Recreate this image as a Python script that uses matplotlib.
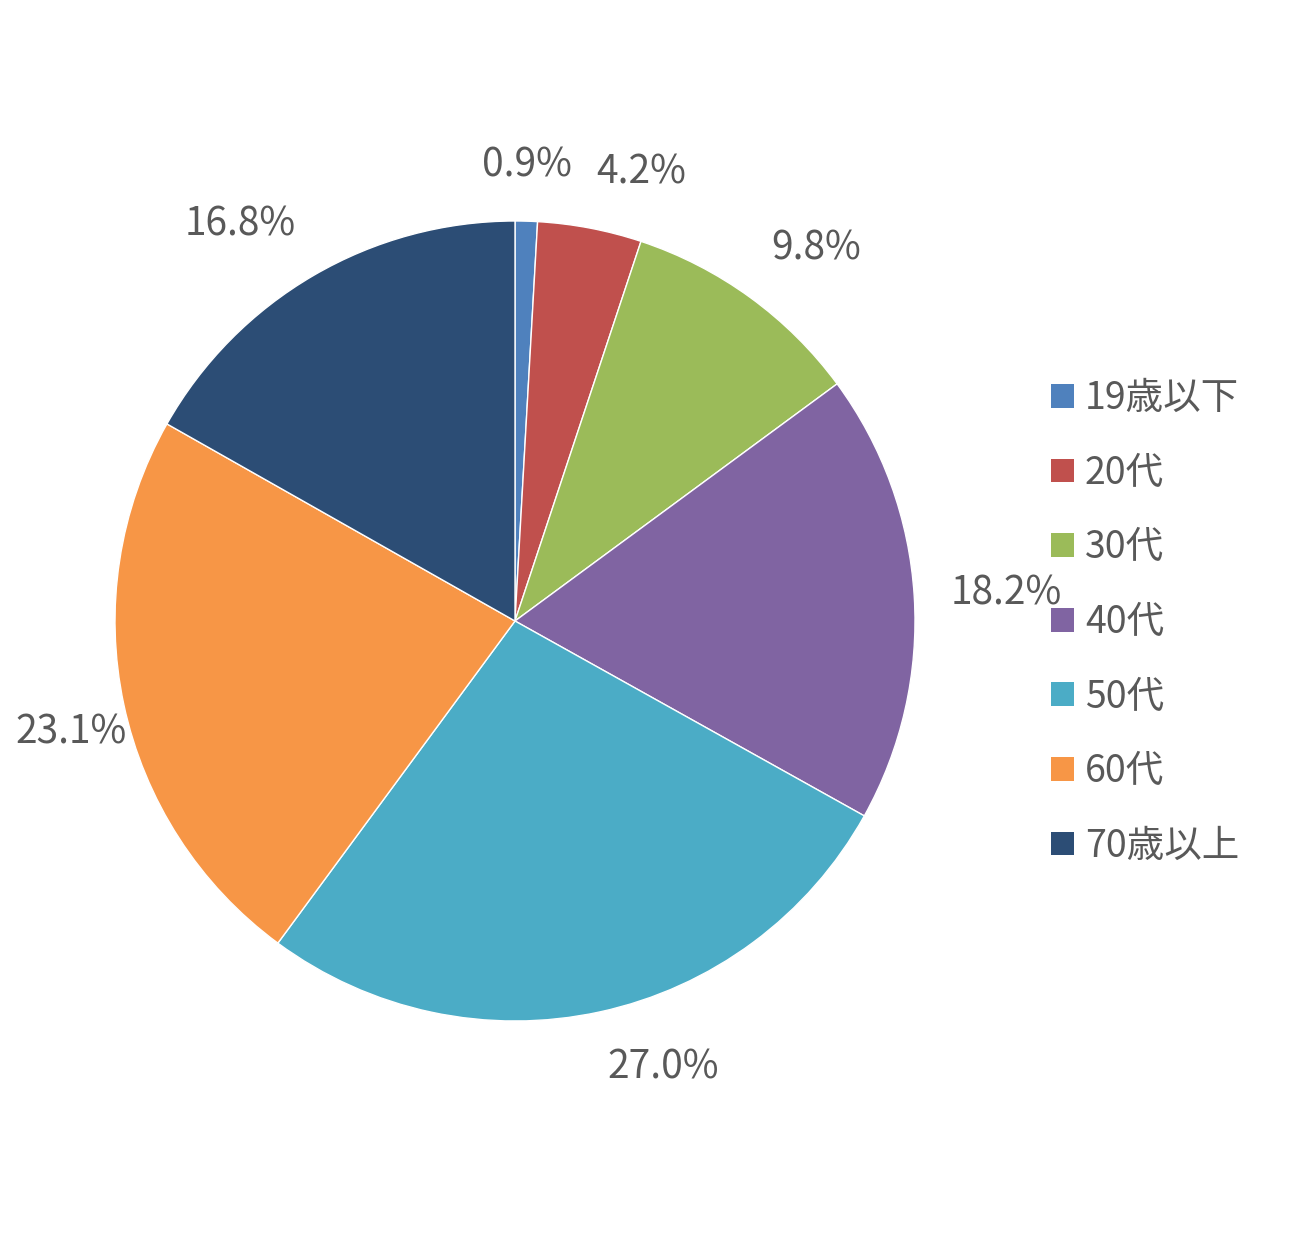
import numpy as np
import matplotlib.pyplot as plt
from matplotlib.patches import Patch

plt.rcParams['font.family'] = ['Noto Sans CJK JP', 'DejaVu Sans']

categories = ["19歳以下", "20代", "30代", "40代", "50代", "60代", "70歳以上"]
shares = [0.9, 4.2, 9.8, 18.2, 27.0, 23.1, 16.8]
colors = ["#4F81BD", "#C0504D", "#9BBB59", "#8064A2", "#4BACC6", "#F79646", "#2C4D75"]
text_col = "#595959"

W, H = 1293, 1242
fig = plt.figure(figsize=(W / 100, H / 100), dpi=100)
R = 400  # pie radius in px
cx, cy = 515, 621
ax = fig.add_axes([(cx - R) / W, (H - cy - R) / H, 2 * R / W, 2 * R / H])

wedges, _ = ax.pie(shares, colors=colors, startangle=90, counterclock=False,
                   wedgeprops=dict(edgecolor="white", linewidth=1))
ax.set_xlim(-1, 1)
ax.set_ylim(-1, 1)
ax.set_aspect("equal")
ax.axis("off")

# outside-end labels, aligned away from the pie like Excel does
fig.canvas.draw()
renderer = fig.canvas.get_renderer()
gap = 36 / R
for w, v in zip(wedges, shares):
    ang = np.deg2rad((w.theta1 + w.theta2) / 2)
    c, s = np.cos(ang), np.sin(ang)
    ha = "left" if c > 0.1 else ("right" if c < -0.1 else "center")
    va = "bottom" if s > 0.1 else ("top" if s < -0.1 else "center")
    x, y = (1 + gap) * c, (1 + gap) * s
    t = ax.text(x, y, f"{v:.1f}%", ha=ha, va=va, fontsize=28,
                color=text_col, clip_on=False)
    bb = t.get_window_extent(renderer)
    if bb.x0 < 15:  # keep inside the figure
        t.set_x(x + (15 - bb.x0) / R)

handles = [Patch(facecolor=c, edgecolor="none") for c in colors]
fig.legend(handles, categories, loc="upper left",
           bbox_to_anchor=(1036 / W, 1 - 364 / H), frameon=False,
           fontsize=27, labelcolor=text_col, handlelength=0.6, handleheight=0.6,
           handletextpad=0.3, labelspacing=0.95, borderaxespad=0)

fig.savefig("out.png", dpi=100)
